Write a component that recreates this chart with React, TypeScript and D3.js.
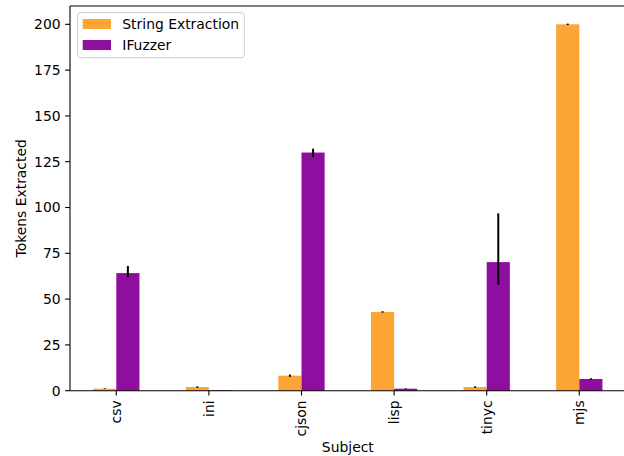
import React from "react";
import * as d3 from "d3";

const subjects = ["csv", "ini", "cjson", "lisp", "tinyc", "mjs"];
const seriesNames = ["String Extraction", "IFuzzer"];
const stringExtraction = [1.1, 2.0, 8.2, 43, 2.0, 200];
const stringLow = [0.9, 1.6, 7.6, 42.6, 1.6, 199.6];
const stringHigh = [1.3, 2.4, 8.8, 43.4, 2.4, 200.4];
const ifuzzer = [64.2, 0.3, 130, 1.1, 70.2, 6.4];
const ifuzzerLow = [61.9, 0.2, 127.4, 0.9, 57.9, 6.0];
const ifuzzerHigh = [68.1, 0.4, 132.1, 1.3, 96.8, 6.8];
const yTicks = [0, 25, 50, 75, 100, 125, 150, 175, 200];

const colors = ["#fca535", "#8e0ea0"];

export default function App() {
  const W = 624, H = 456;
  const left = 70, right = 625.6, top = 6, bottom = 390.7;
  const x = d3.scaleLinear().domain([-0.5, subjects.length - 0.5]).range([left, right]);
  const y = d3.scaleLinear().domain([0, 210]).range([bottom, top]);
  const bw = 0.25;
  const font = "DejaVu Sans, sans-serif";
  const fs = 13.9;
  const tick = 4.86;

  const series = [
    { vals: stringExtraction, lo: stringLow, hi: stringHigh, off: -bw },
    { vals: ifuzzer, lo: ifuzzerLow, hi: ifuzzerHigh, off: 0 },
  ];

  return (
    <svg width={W} height={H} style={{ position: "absolute", left: 0, top: 0, background: "#fff" }} fontFamily={font}>
      <rect x={0} y={0} width={W} height={H} fill="#fff" />
      {series.map((s, si) =>
        s.vals.map((v, i) => {
          const x0 = x(i + s.off);
          const x1 = x(i + s.off + bw);
          return (
            <rect key={`b${si}-${i}`} x={x0} y={y(v)} width={x1 - x0} height={y(0) - y(v)} fill={colors[si]} />
          );
        })
      )}
      {series.map((s, si) =>
        s.vals.map((v, i) => {
          const cx = x(i + s.off + bw / 2);
          return (
            <line key={`e${si}-${i}`} x1={cx} x2={cx} y1={y(s.lo[i])} y2={y(s.hi[i])} stroke="#000" strokeWidth={2} />
          );
        })
      )}
      {/* spines */}
      <line x1={left} x2={left} y1={top} y2={bottom} stroke="#000" strokeWidth={1.1} />
      <line x1={left} x2={right} y1={bottom} y2={bottom} stroke="#000" strokeWidth={1.1} />
      <line x1={left} x2={right} y1={top} y2={top} stroke="#000" strokeWidth={1.1} />
      <line x1={right} x2={right} y1={top} y2={bottom} stroke="#000" strokeWidth={1.1} />
      {/* y ticks */}
      {yTicks.map((t) => (
        <g key={`yt${t}`}>
          <line x1={left - tick} x2={left} y1={y(t)} y2={y(t)} stroke="#000" strokeWidth={1.1} />
          <text x={left - tick - 4.5} y={y(t)} dy="0.35em" textAnchor="end" fontSize={fs} fill="#000">
            {t}
          </text>
        </g>
      ))}
      {/* x ticks */}
      {subjects.map((s, i) => (
        <g key={`xt${s}`}>
          <line x1={x(i)} x2={x(i)} y1={bottom} y2={bottom + tick} stroke="#000" strokeWidth={1.1} />
          <text
            transform={`translate(${x(i)},${bottom + tick + 4.8}) rotate(-90)`}
            dy="0.35em"
            textAnchor="end"
            fontSize={fs}
            fill="#000"
          >
            {s}
          </text>
        </g>
      ))}
      <text x={(left + right) / 2} y={452} textAnchor="middle" fontSize={fs} fill="#000">
        Subject
      </text>
      <text
        transform={`translate(${26},${(top + bottom) / 2}) rotate(-90)`}
        textAnchor="middle"
        fontSize={fs}
        fill="#000"
      >
        Tokens Extracted
      </text>
      {/* legend */}
      <rect x={77.7} y={12.7} width={166.6} height={45} rx={3} fill="#fff" fillOpacity={0.8} stroke="#ccc" strokeWidth={1} />
      {seriesNames.map((n, i) => (
        <g key={`lg${n}`}>
          <rect x={82.7} y={19 + i * 21} width={28.3} height={10} fill={colors[i]} />
          <text x={122.3} y={24 + i * 21} dy="0.35em" fontSize={fs} fill="#000">
            {n}
          </text>
        </g>
      ))}
    </svg>
  );
}
